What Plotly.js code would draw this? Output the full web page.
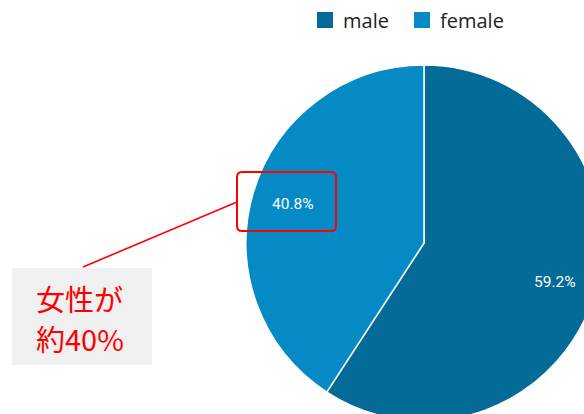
<!DOCTYPE html>
<html><head><meta charset="utf-8">
<script src="https://cdn.plot.ly/plotly-3.0.1.min.js"></script>
<style>body{margin:0;background:#fff}#wrap{width:584px;height:414px;overflow:hidden;position:relative}#chart{position:absolute;left:0;top:0}</style>
</head><body><div id="wrap"><div id="chart"></div></div>
<script>
const labels = ['male', 'female'];
const values = [59.2, 40.8];
const colors = ['#046a97', '#068ac6'];
const noteLines = ['女性が', '約40%'];

const W = 700, H = 500;
const px = x => x / W, py = y => 1 - y / H;
// pie centre (424,243), radius 178
const cx = 424, cy = 243, r = 178;

function roundRect(x0, y0, x1, y1, rr) {
  const P = (x, y) => px(x).toFixed(5) + ',' + py(y).toFixed(5);
  return 'M' + P(x0 + rr, y0) + ' L' + P(x1 - rr, y0) + ' Q' + P(x1, y0) + ' ' + P(x1, y0 + rr) +
    ' L' + P(x1, y1 - rr) + ' Q' + P(x1, y1) + ' ' + P(x1 - rr, y1) +
    ' L' + P(x0 + rr, y1) + ' Q' + P(x0, y1) + ' ' + P(x0, y1 - rr) +
    ' L' + P(x0, y0 + rr) + ' Q' + P(x0, y0) + ' ' + P(x0 + rr, y0) + ' Z';
}

const data = [{
  type: 'pie',
  labels: labels,
  values: values,
  sort: false,
  direction: 'clockwise',
  rotation: 0,
  marker: {colors: colors, line: {color: '#ffffff', width: 1.5}},
  textinfo: 'none',
  hoverinfo: 'none',
  showlegend: false,
  domain: {x: [px(cx - r), px(cx + r)], y: [py(cy + r), py(cy - r)]}
}];

// percentage labels placed along each slice's mid-angle (computed from the values)
const total = values.reduce((a, b) => a + b, 0);
const sliceLabels = [];
let cum = 0;
values.forEach((v, i) => {
  const mid = (cum + v / 2) / total * 2 * Math.PI;
  cum += v;
  const lx = cx + 0.765 * r * Math.sin(mid);
  const ly = cy - 0.765 * r * Math.cos(mid);
  sliceLabels.push({xref: 'paper', yref: 'paper', x: px(lx), y: py(ly), xanchor: 'center', yanchor: 'middle',
    showarrow: false, text: (v / total * 100).toFixed(1) + '%',
    font: {family: 'Roboto, Arial, sans-serif', size: 15.5, color: '#ffffff'}});
});

// legend drawn from labels/colors
const legendShapes = [], legendText = [];
const legX = [317, 414];
labels.forEach((lab, i) => {
  legendShapes.push({type: 'rect', xref: 'paper', yref: 'paper', x0: px(legX[i]), x1: px(legX[i] + 16),
    y0: py(28), y1: py(12), fillcolor: colors[i], line: {width: 0}});
  legendText.push({xref: 'paper', yref: 'paper', x: px(legX[i] + 24), y: py(20.5), xanchor: 'left', yanchor: 'middle',
    showarrow: false, text: lab, font: {family: '"Open Sans", "Noto Sans", sans-serif', size: 20, color: '#222222'}});
});

const layout = {
  width: W, height: H,
  margin: {l: 0, r: 0, t: 0, b: 0},
  paper_bgcolor: '#ffffff',
  showlegend: false,
  shapes: legendShapes.concat([
    {type: 'rect', xref: 'paper', yref: 'paper', x0: px(12), x1: px(152), y0: py(365), y1: py(268),
     fillcolor: '#f0f0f0', line: {width: 0}, layer: 'above'},
    {type: 'line', xref: 'paper', yref: 'paper', x0: px(83), y0: py(267), x1: px(237), y1: py(202),
     line: {color: '#ff0000', width: 1.6}, layer: 'above'},
    {type: 'path', xref: 'paper', yref: 'paper', path: roundRect(237, 172, 336, 231, 5),
     line: {color: '#ff0000', width: 2}, fillcolor: 'rgba(0,0,0,0)', layer: 'above'}
  ]),
  annotations: sliceLabels.concat(legendText, [
    {xref: 'paper', yref: 'paper', x: px(34), y: py(298), xanchor: 'left', yanchor: 'middle', showarrow: false,
     text: noteLines[0], font: {family: '"Noto Sans CJK JP", sans-serif', size: 29, color: '#ff0000'}},
    {xref: 'paper', yref: 'paper', x: px(34), y: py(338), xanchor: 'left', yanchor: 'middle', showarrow: false,
     text: noteLines[1], font: {family: '"Noto Sans CJK JP", sans-serif', size: 29, color: '#ff0000'}}
  ])
};

Plotly.newPlot('chart', data, layout, {displayModeBar: false, staticPlot: true});
</script></body></html>
